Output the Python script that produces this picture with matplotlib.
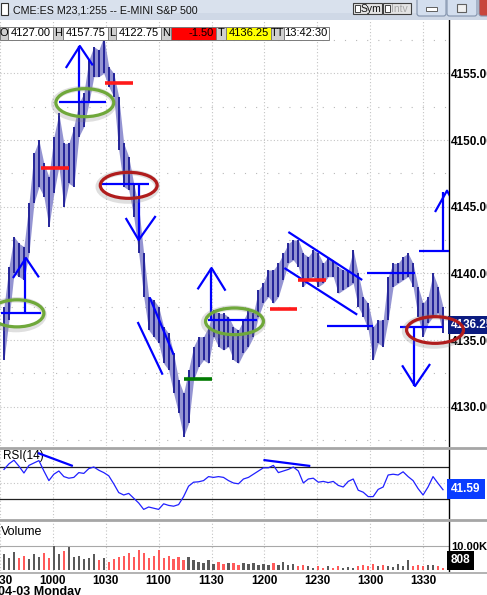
import numpy as np
import matplotlib.pyplot as plt
from matplotlib.patches import Ellipse, Rectangle, FancyBboxPatch

plt.rcParams['font.family'] = ['Liberation Sans', 'DejaVu Sans']

# ---- chart data: one entry per 255-tick bar ----
bar_hi = [4137.5, 4140.5, 4142.75, 4142.25, 4142.0, 4145.25, 4149.0, 4150.0, 4148.25, 4147.25,
          4150.25, 4152.0, 4149.75, 4149.75, 4151.0, 4152.75, 4153.5, 4156.0, 4157.0, 4156.75,
          4157.75, 4155.5, 4155.0, 4153.25, 4149.75, 4148.75, 4146.75, 4145.0, 4141.5, 4138.25,
          4138.0, 4137.5, 4136.0, 4135.5, 4134.0, 4132.0, 4131.0, 4132.75, 4134.5, 4135.25,
          4135.25, 4136.0, 4137.25, 4137.0, 4137.0, 4136.75, 4136.0, 4135.75, 4136.5, 4137.25,
          4137.0, 4138.75, 4139.25, 4140.25, 4140.25, 4140.75, 4141.5, 4142.25, 4142.5, 4142.5,
          4141.5, 4141.25, 4141.75, 4141.5, 4140.75, 4141.25, 4141.0, 4140.5, 4140.25, 4140.25,
          4141.75, 4140.0, 4138.25, 4137.75, 4136.0, 4136.5, 4136.5, 4139.75, 4140.75, 4140.75,
          4141.25, 4141.5, 4140.75, 4139.0, 4137.75, 4138.25, 4140.0, 4139.0, 4137.5]
bar_lo = [4133.5, 4136.5, 4140.0, 4139.75, 4139.5, 4141.5, 4145.25, 4146.5, 4145.75, 4143.5,
          4146.0, 4148.0, 4145.0, 4146.75, 4146.5, 4150.25, 4151.0, 4152.75, 4154.75, 4154.75,
          4155.0, 4154.0, 4153.25, 4149.25, 4146.5, 4146.25, 4144.25, 4141.5, 4138.25, 4135.75,
          4135.25, 4134.75, 4133.25, 4132.75, 4131.0, 4129.5, 4127.75, 4128.75, 4132.0, 4133.0,
          4133.5, 4133.25, 4135.25, 4134.5, 4134.25, 4134.5, 4133.5, 4133.25, 4134.0, 4134.5,
          4135.25, 4136.75, 4137.75, 4138.25, 4137.75, 4138.25, 4139.5, 4140.75, 4141.0, 4140.5,
          4139.0, 4139.5, 4139.75, 4139.0, 4139.25, 4139.75, 4139.75, 4138.5, 4138.75, 4139.0,
          4139.25, 4137.5, 4136.75, 4135.75, 4133.5, 4134.75, 4134.5, 4136.5, 4139.0, 4139.25,
          4139.5, 4139.75, 4139.0, 4136.75, 4135.25, 4136.25, 4136.75, 4137.0, 4135.5]
rsi14 = [67, 74, 78.5, 71, 62.5, 72, 75, 78, 65, 53,
         61, 65, 58, 56, 57, 63, 62, 68, 70, 66,
         63, 59, 49, 38, 35, 37, 31, 25, 17, 20,
         18.5, 17, 24, 22, 21, 23, 33, 46, 51, 51.5,
         53, 58, 57, 58, 57, 53, 50, 49, 55, 57,
         61, 65, 69, 69, 72, 63, 65, 67, 70, 65,
         50, 55, 56, 51, 52, 50.5, 52, 47, 45, 52,
         55, 41, 38.5, 33, 33, 42, 45, 60, 61, 60,
         64, 58, 53, 43, 35, 45, 58, 49.6, 41.59]
volume_k = [6.5, 5, 7.5, 5, 6, 4.5, 6.5, 5.5, 7, 5,
            10, 6.5, 8, 9.7, 5.5, 6, 4.5, 5, 6.5, 4,
            5, 3.5, 4.5, 5.5, 6, 7, 5.5, 8.3, 7, 5,
            6, 8.3, 5, 6, 4.5, 5.5, 4, 5.5, 4, 3.5,
            3, 4, 2.5, 3.5, 2.5, 3, 3, 2, 3, 2.5,
            3, 2, 2.5, 2, 3, 2, 3.5, 2, 2.5, 1.5,
            2, 1.5, 1, 1.5, 1, 1.5, 1, 1.5, 1, 1.2,
            0.8, 1.5, 2, 1.5, 2.5, 1.5, 2, 1.5, 1.2, 2.5,
            1.5, 4, 1.5, 2, 1.5, 2, 2, 1.5, 0.808]

time_labels = ['0930', '1000', '1030', '1100', '1130', '1200', '1230', '1300', '1330']
bars_per_30min = 10.6
price_ticks = [4130, 4135, 4140, 4145, 4150, 4155]
ohlc_info = [('O', '4127.00'), ('H', '4157.75'), ('L', '4122.75'),
             ('N', '-1.50'), ('T', '4136.25'), ('TT', '13:42:30')]
last_price = 4136.25
last_rsi = 41.59
last_vol = 0.808

idx = np.arange(len(bar_hi))
tick_pos = -0.8 + bars_per_30min * np.arange(len(time_labels))
mid = (np.array(bar_hi) + np.array(bar_lo)) / 2
vol_colors = ['#5a5a5a' if i == 0 or mid[i] >= mid[i - 1] else '#ff5a5a' for i in idx]

W, H = 487, 595
fig = plt.figure(figsize=(W / 100, H / 100), dpi=100)


def box(x0, y0, x1, y1):
    return [x0 / W, 1 - y1 / H, (x1 - x0) / W, (y1 - y0) / H]


ax = fig.add_axes(box(0, 20, 449, 446))
ax_rsi = fig.add_axes(box(0, 449, 449, 518), sharex=ax)
ax_vol = fig.add_axes(box(0, 521, 449, 571), sharex=ax)

grid_col = '#c4c4c4'
for a in (ax, ax_rsi, ax_vol):
    for s in ('top', 'left', 'bottom'):
        a.spines[s].set_visible(False)
    a.spines['right'].set_color('black')
    a.spines['right'].set_linewidth(1.0)
    a.yaxis.tick_right()
    a.tick_params(axis='y', length=0, pad=1.5, labelsize=8.5)
    a.tick_params(axis='x', length=0, labelbottom=False)
    a.grid(axis='x', color=grid_col, ls=(0, (1, 2)), lw=0.8)
    a.set_axisbelow(True)

ax.set_xlim(-0.6, 89.2)
ax.set_xticks(tick_pos)

# ---- price panel ----
ax.set_ylim(4127.05, 4159.0)
ax.set_yticks(price_ticks)
ax.set_yticklabels(['%.2f' % v for v in price_ticks], fontweight='bold')
ax.set_yticks([p + 2.5 for p in price_ticks[:-1]] + [4127.5, 4157.5], minor=True)
ax.tick_params(axis='y', which='minor', length=0)
ax.grid(axis='y', which='major', color=grid_col, ls=(0, (1, 2)), lw=0.8)
ax.grid(axis='y', which='minor', color='#b8b8b8', ls=(0, (1, 9)), lw=0.8)

ax.fill_between(idx, bar_lo, bar_hi, color='#9494d2', lw=0, zorder=2)
ax.vlines(idx, bar_lo, bar_hi, color='#24249a', lw=1.4, zorder=3)

blue = '#0000ff'


def seg(a, pts, color=blue, lw=1.6, **kw):
    xs, ys = zip(*pts)
    a.plot(xs, ys, color=color, lw=lw, solid_capstyle='butt', zorder=5, **kw)


# hand-drawn levels and arrows
seg(ax, [(-0.6, 4137.0), (7.4, 4137.0)])
seg(ax, [(4.2, 4137.0), (4.2, 4141.15)])
seg(ax, [(1.8, 4139.65), (4.4, 4141.15), (7.0, 4139.7)])
seg(ax, [(11.0, 4152.85), (20.4, 4152.85)])
seg(ax, [(15.0, 4152.85), (15.0, 4157.05)])
seg(ax, [(12.4, 4155.4), (15.2, 4157.05), (17.8, 4155.6)])
seg(ax, [(19.6, 4146.7), (29.0, 4146.7)])
seg(ax, [(27.0, 4146.7), (27.0, 4142.5)])
seg(ax, [(24.4, 4144.15), (27.0, 4142.5), (30.4, 4144.3)])
seg(ax, [(26.8, 4136.35), (31.8, 4132.4)])
seg(ax, [(29.2, 4138.2), (34.0, 4133.9)])
seg(ax, [(40.8, 4136.5), (50.8, 4136.5)])
seg(ax, [(41.4, 4136.5), (41.4, 4140.4)])
seg(ax, [(38.8, 4138.8), (41.6, 4140.4), (44.4, 4138.7)])
seg(ax, [(57.0, 4143.1), (71.8, 4139.5)])
seg(ax, [(56.2, 4140.4), (70.8, 4136.9)])
seg(ax, [(64.8, 4136.05), (74.0, 4136.05)])
seg(ax, [(72.8, 4140.0), (82.4, 4140.0)])
seg(ax, [(79.4, 4136.0), (88.0, 4136.0)])
seg(ax, [(82.2, 4136.0), (82.2, 4131.55)])
seg(ax, [(79.8, 4133.1), (82.4, 4131.55), (85.4, 4133.2)])
seg(ax, [(83.2, 4141.7), (89.2, 4141.7)])
seg(ax, [(88.0, 4141.7), (88.0, 4146.1)])
seg(ax, [(86.4, 4144.6), (88.8, 4146.2), (91.2, 4144.6)])

for x0, x1, p, c in [(7.4, 13.0, 4147.9, '#ff1a1a'), (20.2, 25.8, 4154.3, '#ff1a1a'),
                     (53.4, 58.8, 4137.3, '#ff1a1a'), (59.0, 64.6, 4139.5, '#ff1a1a'),
                     (36.0, 41.6, 4132.1, '#007a00')]:
    seg(ax, [(x0, p), (x1, p)], color=c, lw=2.6)

for cx, cy, w, h, c in [(2.6, 4137.0, 10.8, 2.03, '#6fa83a'), (16.2, 4152.8, 11.6, 2.1, '#6fa83a'),
                        (46.2, 4136.4, 11.6, 2.0, '#6fa83a'), (25.0, 4146.6, 11.4, 1.95, '#b01c1c'),
                        (86.4, 4135.75, 11.4, 2.0, '#b01c1c')]:
    ax.add_patch(Ellipse((cx - 0.2, cy - 0.1), w + 0.4, h + 0.2, fill=False, ec='#808080',
                         lw=4, alpha=0.25, zorder=6, clip_on=False))
    ax.add_patch(Ellipse((cx, cy), w, h, fill=False, ec=c, lw=2.3, zorder=9, clip_on=False))

ax.annotate('%.2f' % last_price, xy=(1, last_price), xycoords=('axes fraction', 'data'),
            xytext=(2, -2), textcoords='offset pixels', ha='left', va='center', fontsize=8.5,
            fontweight='bold', color='white', zorder=8, annotation_clip=False,
            bbox=dict(boxstyle='square,pad=0.25', fc='#0c1c80', ec='none'))

# ---- RSI panel ----
ax_rsi.set_ylim(6.25, 92.5)
ax_rsi.set_yticks([50])
ax_rsi.set_yticklabels(['50.00'], fontweight='bold')
ax_rsi.axhline(70, color='#202020', lw=0.9)
ax_rsi.axhline(30, color='#202020', lw=0.9)
ax_rsi.axhline(50, color=grid_col, ls=(0, (1, 2)), lw=0.8)
ax_rsi.plot(idx, rsi14, color='#2020ff', lw=0.9, zorder=4)
seg(ax_rsi, [(6.8, 87.5), (13.8, 71.25)])
seg(ax_rsi, [(52.0, 78.75), (61.4, 71.25)])
ax_rsi.text(-0.15, 84, 'RSI(14)', fontsize=8.5, ha='left', va='center', color='black')
ax_rsi.annotate('%.2f' % last_rsi, xy=(1, last_rsi), xycoords=('axes fraction', 'data'),
                xytext=(2, 1), textcoords='offset pixels', ha='left', va='center', fontsize=8.5,
                fontweight='bold', color='white', zorder=8, annotation_clip=False,
                bbox=dict(boxstyle='square,pad=0.35', fc='#0a3cff', ec='none'))

# ---- volume panel ----
ax_vol.set_ylim(-0.4, 20.4)
ax_vol.set_yticks([10])
ax_vol.set_yticklabels(['10.00K'], fontweight='bold', fontsize=8)
ax_vol.axhline(10, color='#a8a8a8', lw=0.8)
ax_vol.bar(idx, volume_k, width=0.45, color=vol_colors, zorder=3)
ax_vol.text(0.003, 0.78, 'Volume', transform=ax_vol.transAxes, fontsize=9, ha='left', va='center')
ax_vol.annotate('%d' % round(last_vol * 1000), xy=(1, last_vol), xycoords=('axes fraction', 'data'),
                xytext=(2, 2), textcoords='offset pixels', ha='left', va='bottom', fontsize=8.5,
                fontweight='bold', color='white', zorder=8, annotation_clip=False,
                bbox=dict(boxstyle='square,pad=0.3', fc='black', ec='none'))
ax_vol.set_xticks(tick_pos)
ax_vol.set_xticklabels(time_labels, fontweight='bold')
ax_vol.tick_params(axis='x', labelbottom=True, pad=3, labelsize=8.5)

# ---- window chrome drawn in pixel space ----
ov = fig.add_axes([0, 0, 1, 1])
ov.set_xlim(0, W)
ov.set_ylim(H, 0)
ov.axis('off')
ov.set_zorder(10)
ov.patch.set_visible(False)

for y in (447.5, 519.5):
    ov.plot([0, W], [y, y], color='#a6a6a6', lw=2.0)
ov.plot([0, W], [572.5, 572.5], color='#a6a6a6', lw=1.2)
ov.text(-2, 585.5, '04-03 Monday', fontsize=9, fontweight='bold', ha='left', va='top')

ov.add_patch(Rectangle((0, 0), W, 20, fc='#d9e1ed', ec='none'))
ov.add_patch(Rectangle((0, 13), W, 7, fc='#cfd8e6', ec='none'))
ov.add_patch(Rectangle((0.5, 2.5), 7, 12, fc='white', ec='#303030', lw=0.8))
ov.text(13, 10.5, 'CME:ES M23,1:255 -- E-MINI S&P 500', fontsize=7.7, ha='left', va='center',
        color='#101010')

for x0, w, lab, col in [(353, 29, 'Sym', '#101010'), (383, 28, 'Intv', '#a8a8a8')]:
    ov.add_patch(Rectangle((x0, 3), w, 11, fc='#e4e4e4', ec='#404040', lw=0.8))
    ov.add_patch(Rectangle((x0 + 2, 5), 5, 7, fc='white', ec='#404040', lw=0.7))
    ov.text(x0 + 8, 8.7, lab, fontsize=7.5, ha='left', va='center', color=col)

for x0, w, fc in [(417, 29, '#d3deee'), (447, 30, '#d3deee'), (479, 20, '#c8463c')]:
    ov.add_patch(FancyBboxPatch((x0, -3), w, 19, boxstyle='round,pad=0,rounding_size=2.5',
                                fc=fc, ec='#8393ad', lw=0.8))
ov.add_patch(Rectangle((426, 7), 11, 3.5, fc='white', ec='#606060', lw=0.7))
ov.add_patch(Rectangle((457, 4), 9, 8, fc='#f0f0f0', ec='#606060', lw=0.8))

# OHLC info strip
x = 0
cell_w = {'O': 8, 'H': 10, 'L': 8, 'N': 10, 'T': 10, 'TT': 13}
val_bg = {'N': '#ff0000', 'T': '#ffff00'}
for lab, val in ohlc_info:
    lw_ = cell_w[lab]
    ov.add_patch(Rectangle((x, 26.5), lw_, 13, fc='#cfcfcf', ec='#7a7a7a', lw=0.7))
    ov.text(x + lw_ / 2, 33.3, lab, fontsize=8, ha='center', va='center')
    x += lw_
    ov.add_patch(Rectangle((x, 26.5), 45, 13, fc=val_bg.get(lab, 'white'), ec='#7a7a7a', lw=0.7))
    ov.text(x + 43, 33.3, val, fontsize=8, ha='right', va='center')
    x += 45

fig.savefig('out.png', dpi=100)
